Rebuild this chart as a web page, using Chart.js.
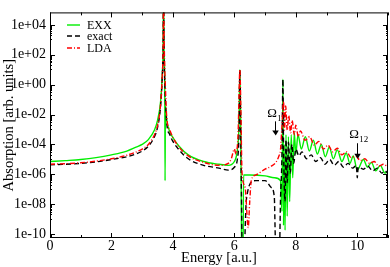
<!DOCTYPE html>
<html>
<head>
<meta charset="utf-8">
<script src="https://cdn.jsdelivr.net/npm/chart.js@4.4.1/dist/chart.umd.min.js"></script>
<style>
  html, body { margin: 0; padding: 0; background: #fff; }
  canvas { display: block; }
</style>
</head>
<body>
<canvas id="chart" width="390" height="267"></canvas>
<script>
// EXX (green)
const exxEnergy = [0.0, 0.5, 1.0, 1.5, 2.0, 2.5, 2.8, 3.0, 3.2, 3.4, 3.5, 3.6, 3.65, 3.68, 3.695, 3.71, 3.735, 3.745, 3.755, 3.8, 3.9, 4.0, 4.2, 4.5, 5.0, 5.5, 5.8, 6.0, 6.1, 6.15, 6.18, 6.2, 6.22, 6.24, 6.28, 6.3, 6.5, 7.0, 7.3, 7.5, 7.55, 7.58, 7.6, 7.62, 7.65, 7.68, 7.72, 7.76, 7.8, 7.85, 7.9, 7.95, 8.0, 8.07, 8.18, 8.31, 8.44, 8.57, 8.70, 8.83, 8.96, 9.09, 9.22, 9.35, 9.50, 9.64, 9.76, 9.87, 10.0, 10.2, 10.33, 10.46, 10.6, 10.75, 10.9, 11.0];
const exxAbs = [7.2e-6, 8.3e-6, 9.8e-6, 1.3e-5, 2.0e-5, 3.6e-5, 6.6e-5, 1.0e-4, 2.1e-4, 9.3e-4, 4.1e-3, 0.078, 3.1, 250, 1e6, 250, 0.7, 3.8e-7, 0.037, 4.1e-3, 6.9e-4, 2.9e-4, 7.6e-5, 2.0e-5, 7.2e-6, 4.7e-6, 4.0e-6, 7.2e-6, 4.9e-5, 1.9e-3, 10, 0.037, 5.9e-7, 1e-12, 1e-12, 9.1e-7, 9.1e-7, 7.9e-7, 5.9e-7, 3.8e-7, 3.4e-9, 2.3, 3.8e-10, 1.0e-4, 1.8e-10, 4.5e-4, 1.6e-9, 3.3e-4, 1.5e-8, 4.5e-4, 5.9e-7, 6.0e-4, 2.3e-5, 4.5e-4, 4.9e-5, 3.3e-4, 3.6e-5, 1.9e-4, 2.3e-5, 1.0e-4, 1.5e-5, 6.6e-5, 1.1e-5, 4.3e-5, 7.2e-6, 2.7e-5, 5.4e-6, 1.7e-5, 1.9e-6, 9.8e-6, 3.0e-6, 6.3e-6, 1.7e-6, 4.0e-6, 1.2e-6, 1.7e-6];

// exact (black dashed)
const exactEnergy = [0.0, 0.5, 1.0, 1.5, 2.0, 2.5, 2.8, 3.0, 3.2, 3.4, 3.5, 3.6, 3.65, 3.68, 3.695, 3.71, 3.74, 3.8, 3.9, 4.0, 4.2, 4.5, 5.0, 5.5, 5.8, 6.0, 6.1, 6.15, 6.18, 6.2, 6.23, 6.26, 6.32, 6.35, 6.38, 6.43, 6.5, 6.7, 7.0, 7.2, 7.3, 7.33, 7.36, 7.46, 7.5, 7.55, 7.58, 7.6, 7.65, 7.68, 7.72, 7.76, 7.82, 7.87, 7.93, 8.0, 8.1, 8.2, 8.35, 8.5, 8.65, 8.8, 8.95, 9.1, 9.25, 9.4, 9.55, 9.7, 9.85, 9.97, 10.0, 10.03, 10.2, 10.35, 10.5, 10.65, 10.8, 10.9, 11.0];
const exactAbs = [4.4e-6, 4.7e-6, 5.4e-6, 6.8e-6, 9.8e-6, 1.5e-5, 2.3e-5, 3.6e-5, 7.6e-5, 3.3e-4, 1.4e-3, 0.037, 2.3, 250, 1e6, 250, 0.7, 2.6e-3, 4.5e-4, 1.6e-4, 4.3e-5, 1.1e-5, 4.0e-6, 2.6e-6, 1.9e-6, 3.0e-6, 1.1e-5, 4.5e-4, 10, 8.5e-3, 6.4e-8, 1e-12, 1e-12, 1.8e-10, 9.5e-9, 6.4e-8, 2.1e-7, 3.8e-7, 3.8e-7, 1.3e-7, 3.1e-8, 8.7e-11, 1e-12, 1e-12, 1.5e-8, 2.3e-5, 2.3, 1.0e-4, 1.5e-8, 2.1e-4, 2.8e-7, 1.4e-4, 1.2e-6, 1.0e-4, 5.4e-6, 4.9e-5, 1.7e-5, 3.2e-5, 1.1e-5, 2.0e-5, 7.2e-6, 1.3e-5, 4.7e-6, 9.8e-6, 4.0e-6, 7.2e-6, 3.0e-6, 5.4e-6, 2.6e-6, 4.0e-6, 5.9e-7, 3.0e-6, 2.2e-6, 3.5e-6, 1.7e-6, 2.6e-6, 1.2e-6, 1.7e-6, 1.07e-6];

// LDA (red dash-dot)
const ldaEnergy = [0.0, 1.0, 2.0, 2.5, 3.0, 3.2, 3.4, 3.5, 3.6, 3.65, 3.68, 3.695, 3.72, 3.75, 3.8, 3.9, 4.0, 4.2, 4.5, 5.0, 5.5, 5.8, 5.9, 6.0, 6.05, 6.12, 6.18, 6.21, 6.25, 6.35, 6.45, 6.5, 6.55, 6.7, 7.0, 7.2, 7.35, 7.45, 7.5, 7.55, 7.6, 7.63, 7.67, 7.72, 7.77, 7.83, 7.88, 7.95, 8.0, 8.08, 8.15, 8.3, 8.45, 8.6, 8.75, 8.9, 9.05, 9.2, 9.35, 9.5, 9.65, 9.8, 9.95, 10.1, 10.25, 10.4, 10.55, 10.7, 10.85, 11.0];
const ldaAbs = [4.7e-6, 5.9e-6, 1.1e-5, 1.9e-5, 4.9e-5, 1.0e-4, 4.5e-4, 1.9e-3, 0.05, 3.1, 250, 1e6, 250, 1.5, 6.3e-3, 9.3e-4, 2.9e-4, 6.6e-5, 1.7e-5, 6.3e-6, 4.0e-6, 5.4e-6, 1.1e-5, 4.9e-5, 2.3e-5, 4.5e-4, 10, 0.037, 1.2e-6, 1.3e-7, 2.8e-10, 1.5e-8, 3.8e-7, 9.1e-7, 2.2e-6, 3.5e-6, 6.3e-6, 1.7e-5, 4.3e-5, 1.9e-3, 0.078, 9.3e-4, 0.037, 9.3e-4, 8.5e-3, 6.0e-4, 4.1e-3, 4.5e-4, 1.9e-3, 3.3e-4, 8.1e-4, 1.9e-4, 3.3e-4, 8.9e-5, 1.6e-4, 4.9e-5, 8.9e-5, 3.2e-5, 5.6e-5, 2.0e-5, 3.2e-5, 1.3e-5, 1.7e-5, 8.3e-6, 1.1e-5, 5.4e-6, 7.2e-6, 3.5e-6, 4.7e-6, 3.0e-6];

const seriesNames = ['EXX', 'exact', 'LDA'];
const xTicks = [0, 2, 4, 6, 8, 10];
const yTicks = [1e-10, 1e-8, 1e-6, 1e-4, 1e-2, 1e0, 1e2, 1e4];

const SERIF = '"Liberation Serif", "DejaVu Serif", serif';
Chart.defaults.font.family = SERIF;
Chart.defaults.color = '#000';

function pairs(xs, ys) {
  return xs.map((x, i) => ({ x: x, y: ys[i] }));
}

function expLabel(v) {
  const e = Math.round(Math.log10(v));
  return '1e' + (e < 0 ? '-' : '+') + String(Math.abs(e)).padStart(2, '0');
}

// box, inward ticks, legend and the two Omega markers
const frame = {
  id: 'frame',
  afterDraw(chart) {
    const ctx = chart.ctx;
    const a = chart.chartArea;
    const xs = chart.scales.x, ys = chart.scales.y;
    ctx.save();
    ctx.strokeStyle = '#000';
    ctx.lineWidth = 1;
    ctx.setLineDash([]);
    ctx.strokeRect(a.left + 0.5, a.top + 0.5, a.right - a.left - 1, a.bottom - a.top - 1);

    ctx.beginPath();
    for (let e = 0; e <= 11; e++) {
      const px = Math.round(xs.getPixelForValue(e)) + 0.5;
      const len = e % 2 === 0 ? 5 : 3;
      ctx.moveTo(px, a.bottom); ctx.lineTo(px, a.bottom - len);
      ctx.moveTo(px, a.top); ctx.lineTo(px, a.top + len);
    }
    for (let p = -12; p <= 4; p += 2) {
      const lo = Math.pow(10, p), hi = Math.pow(10, p + 2);
      const marks = [[lo, 5]];
      for (let k = 1; k <= 9; k++) marks.push([lo + k * (hi - lo) / 10, 2]);
      marks.forEach(([v, len]) => {
        if (v < ys.min || v > ys.max) return;
        const py = Math.round(ys.getPixelForValue(v)) + 0.5;
        ctx.moveTo(a.left, py); ctx.lineTo(a.left + len, py);
        ctx.moveTo(a.right, py); ctx.lineTo(a.right - len, py);
      });
    }
    ctx.stroke();

    // legend
    const rows = [25, 36, 48];
    ctx.font = '12px ' + SERIF;
    ctx.textBaseline = 'middle';
    ctx.textAlign = 'left';
    chart.data.datasets.forEach((ds, i) => {
      ctx.strokeStyle = ds.borderColor;
      ctx.lineWidth = ds.borderWidth;
      ctx.setLineDash(ds.borderDash || []);
      ctx.beginPath();
      ctx.moveTo(a.left + 17, rows[i]);
      ctx.lineTo(a.left + 30, rows[i]);
      ctx.stroke();
      ctx.fillStyle = '#000';
      ctx.fillText(ds.label, a.left + 37, rows[i] + 1);
    });

    // Omega markers
    ctx.setLineDash([]);
    ctx.strokeStyle = '#000';
    ctx.fillStyle = '#000';
    ctx.lineWidth = 1;
    const mark = (e, sub, labelV, fromV, toV) => {
      const px = xs.getPixelForValue(e);
      const ly = ys.getPixelForValue(labelV);
      ctx.textBaseline = 'alphabetic';
      ctx.textAlign = 'left';
      ctx.font = '13px ' + SERIF;
      ctx.fillText('\u03A9', px - 8, ly);
      ctx.font = '9px ' + SERIF;
      ctx.fillText(sub, px + 2, ly + 4);
      const y0 = ys.getPixelForValue(fromV), y1 = ys.getPixelForValue(toV);
      ctx.beginPath();
      ctx.moveTo(Math.round(px) + 0.5, y0);
      ctx.lineTo(Math.round(px) + 0.5, y1 - 4);
      ctx.stroke();
      ctx.beginPath();
      ctx.moveTo(px - 3, y1 - 5);
      ctx.lineTo(px + 3.5, y1 - 5);
      ctx.lineTo(px + 0.5, y1);
      ctx.closePath();
      ctx.fill();
    };
    mark(7.33, '11', 7.2e-3, 3.5e-3, 3.9e-4);
    mark(10.0, '12', 2.9e-4, 1.2e-4, 1.1e-5);
    ctx.restore();
  }
};

new Chart(document.getElementById('chart'), {
  type: 'line',
  data: {
    datasets: [
      { label: seriesNames[0], data: pairs(exxEnergy, exxAbs), borderColor: '#00ee00', borderWidth: 1.4, order: 3 },
      { label: seriesNames[1], data: pairs(exactEnergy, exactAbs), borderColor: '#000000', borderWidth: 1.4, borderDash: [5, 3], order: 2 },
      { label: seriesNames[2], data: pairs(ldaEnergy, ldaAbs), borderColor: '#ff0000', borderWidth: 1.4, borderDash: [5, 2, 1, 2], order: 1 }
    ]
  },
  options: {
    responsive: false,
    animation: false,
    devicePixelRatio: 1,
    layout: { padding: { left: 0, right: 2, top: 2, bottom: 0 } },
    elements: { point: { radius: 0 }, line: { cubicInterpolationMode: 'monotone', fill: false } },
    plugins: { legend: { display: false }, tooltip: { enabled: false } },
    scales: {
      x: {
        type: 'linear', min: 0, max: 11,
        afterFit: s => { s.height = 29; },
        afterBuildTicks: s => { s.ticks = xTicks.map(v => ({ value: v })); },
        ticks: { font: { size: 14 }, padding: 0, maxRotation: 0 },
        grid: { display: false, drawTicks: false },
        border: { display: false },
        title: { display: true, text: 'Energy [a.u.]', font: { size: 14.5 }, padding: 0 }
      },
      y: {
        type: 'logarithmic', min: 5.5e-11, max: 6.8e4,
        afterFit: s => { s.width = 50; },
        afterBuildTicks: s => { s.ticks = yTicks.map(v => ({ value: v })); },
        ticks: { font: { size: 14 }, padding: 4, callback: v => expLabel(v) },
        grid: { display: false, drawTicks: false },
        border: { display: false },
        title: { display: true, text: 'Absorption [arb. units]', font: { size: 14.5 }, padding: 0 }
      }
    }
  },
  plugins: [frame]
});
</script>
</body>
</html>
